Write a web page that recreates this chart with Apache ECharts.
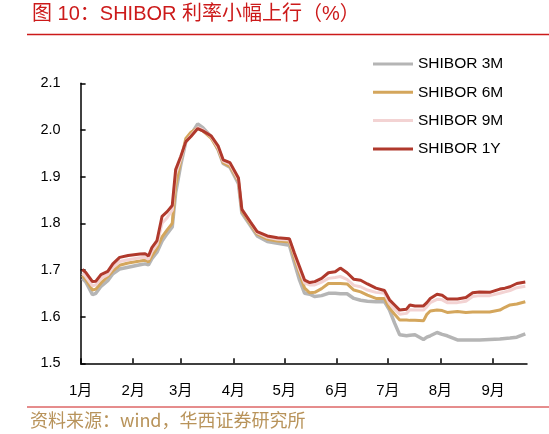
<!DOCTYPE html>
<html>
<head>
<meta charset="utf-8">
<script src="https://cdn.jsdelivr.net/npm/echarts@6/dist/echarts.min.js"></script>
<style>
html,body{margin:0;padding:0;background:#fff;}
#c{width:549px;height:434px;}
</style>
</head>
<body>
<div id="c"></div>
<script>
var dates = ['01-02','01-04','01-08','01-10','01-13','01-17','01-20','01-24','01-29','02-05','02-08','02-10','02-12','02-15','02-18','02-21','02-24','02-26','03-01','03-04','03-07','03-11','03-14','03-19','03-23','03-26','03-30','04-04','04-06','04-11','04-15','04-21','04-27','05-04','05-07','05-10','05-13','05-16','05-19','05-23','05-27','05-31','06-03','06-07','06-11','06-15','06-19','06-24','06-29','07-02','07-05','07-08','07-12','07-14','07-17','07-22','07-24','07-26','07-30','08-02','08-05','08-11','08-16','08-20','08-24','08-30','09-05','09-08','09-11','09-15','09-20'];
var shibor1Y = [1.701,1.695,1.675,1.676,1.690,1.697,1.713,1.727,1.731,1.734,1.735,1.730,1.748,1.763,1.815,1.825,1.838,1.915,1.943,1.975,1.986,2.003,1.998,1.987,1.966,1.936,1.930,1.897,1.830,1.803,1.782,1.773,1.769,1.767,1.736,1.707,1.678,1.673,1.675,1.682,1.694,1.696,1.704,1.694,1.680,1.678,1.670,1.661,1.656,1.636,1.625,1.614,1.616,1.625,1.623,1.623,1.630,1.639,1.648,1.646,1.638,1.638,1.641,1.651,1.653,1.652,1.659,1.661,1.664,1.671,1.674];
var shibor9M = [1.693,1.686,1.666,1.668,1.682,1.690,1.705,1.718,1.722,1.726,1.727,1.723,1.740,1.755,1.800,1.812,1.828,1.905,1.938,1.975,1.988,2.005,2.000,1.985,1.962,1.933,1.927,1.893,1.830,1.802,1.780,1.770,1.766,1.764,1.733,1.700,1.672,1.668,1.668,1.674,1.682,1.684,1.686,1.680,1.667,1.664,1.657,1.652,1.650,1.628,1.616,1.605,1.607,1.615,1.614,1.614,1.621,1.630,1.637,1.636,1.630,1.630,1.633,1.643,1.645,1.645,1.650,1.653,1.656,1.662,1.665];
var shibor6M = [1.688,1.680,1.657,1.659,1.672,1.686,1.698,1.710,1.715,1.719,1.721,1.717,1.730,1.746,1.771,1.786,1.800,1.880,1.935,1.982,1.995,2.004,1.998,1.982,1.958,1.930,1.922,1.890,1.826,1.798,1.777,1.766,1.762,1.760,1.725,1.693,1.661,1.651,1.652,1.660,1.671,1.671,1.671,1.670,1.657,1.653,1.646,1.639,1.639,1.618,1.605,1.593,1.593,1.592,1.592,1.591,1.605,1.612,1.614,1.613,1.609,1.611,1.609,1.610,1.610,1.610,1.614,1.620,1.625,1.627,1.632];
var shibor3M = [1.682,1.675,1.647,1.650,1.665,1.677,1.692,1.702,1.706,1.711,1.713,1.711,1.724,1.738,1.762,1.778,1.792,1.865,1.925,1.975,1.990,2.013,2.005,1.985,1.958,1.928,1.920,1.885,1.822,1.795,1.773,1.761,1.757,1.753,1.715,1.678,1.650,1.648,1.643,1.645,1.650,1.650,1.649,1.649,1.639,1.635,1.633,1.632,1.632,1.614,1.586,1.561,1.559,1.560,1.561,1.551,1.556,1.559,1.566,1.562,1.559,1.550,1.550,1.550,1.550,1.551,1.552,1.553,1.554,1.556,1.563];
var monthStarts = ['01-01','02-01','03-01','04-01','05-01','06-01','07-01','08-01','09-01'];
var monthLabels = ['1月','2月','3月','4月','5月','6月','7月','8月','9月'];
var axisEnd = '09-21';
var seriesNames = ['SHIBOR 3M','SHIBOR 6M','SHIBOR 9M','SHIBOR 1Y'];

function dayOf(s){
  var p = s.split('-');
  return Math.round((Date.UTC(2025, +p[0]-1, +p[1]) - Date.UTC(2025,0,1)) / 86400000);
}
var xs = dates.map(dayOf);
var ticks = monthStarts.map(dayOf);
function pairs(arr){ return arr.map(function(v,i){ return [xs[i], v]; }); }
var labelMap = {};
ticks.forEach(function(t,i){ labelMap[t] = monthLabels[i]; });

var colors = ['#b5b5b5','#d4a65c','#f3d3d3','#b0392c'];
var allData = [shibor3M, shibor6M, shibor9M, shibor1Y];

var chart = echarts.init(document.getElementById('c'));
chart.setOption({
  animation:false,
  backgroundColor:'#fff',
  title:{
    text:'图 10：SHIBOR 利率小幅上行（%）',
    left:32, top:4, padding:0,
    textStyle:{color:'#cc1a1a', fontSize:20, fontWeight:'normal', fontFamily:'Liberation Sans, "Noto Sans CJK SC", sans-serif'}
  },
  legend:{
    orient:'vertical',
    left:373, top:56, padding:0,
    itemWidth:40, itemHeight:3, itemGap:12.3,
    icon:'rect',
    data:seriesNames,
    textStyle:{color:'#000', fontSize:15.5, fontFamily:'Liberation Sans, Arial, sans-serif'}
  },
  grid:{left:80.6, right:22, top:83.3, bottom:70.7, containLabel:false},
  xAxis:{
    type:'value',
    min:0, max:dayOf(axisEnd),
    splitLine:{show:false},
    axisLine:{show:true, lineStyle:{color:'#000', width:1.5}},
    axisTick:{show:true, inside:true, length:5, customValues:ticks, lineStyle:{color:'#000', width:1.5}},
    axisLabel:{
      customValues:ticks,
      formatter:function(v){ return labelMap[v] || ''; },
      color:'#000', fontSize:15, margin:20,
      fontFamily:'Liberation Sans, "Noto Sans CJK SC", sans-serif'
    }
  },
  yAxis:{
    type:'value',
    min:1.5, max:2.1, interval:0.1,
    splitLine:{show:false},
    axisLine:{show:true, lineStyle:{color:'#000', width:1.5}},
    axisTick:{show:true, inside:true, length:5, lineStyle:{color:'#000', width:1.5}},
    axisLabel:{
      formatter:function(v){ return v.toFixed(1); },
      color:'#000', fontSize:14.5, margin:20,
      fontFamily:'Liberation Sans, Arial, sans-serif'
    }
  },
  series: seriesNames.map(function(n,i){
    return {
      name:n, type:'line', data:pairs(allData[i]),
      showSymbol:false, symbol:'none', smooth:false,
      lineStyle:{color:colors[i], width:i===0 ? 3.5 : 3},
      itemStyle:{color:colors[i]},
      z:2+i
    };
  }),
  graphic:[
    {type:'line', shape:{x1:27, y1:34.5, x2:549, y2:34.5}, style:{stroke:'#cc1a1a', lineWidth:1.5}},
    {type:'line', shape:{x1:27, y1:407, x2:549, y2:407}, style:{stroke:'#cc1a1a', lineWidth:1}},
    {type:'text', left:30, top:411, style:{text:'资料来源：wind，华西证券研究所', fill:'#b8935a', fontSize:18, fontFamily:'"Noto Sans CJK SC", sans-serif'}}
  ]
});
</script>
</body>
</html>
